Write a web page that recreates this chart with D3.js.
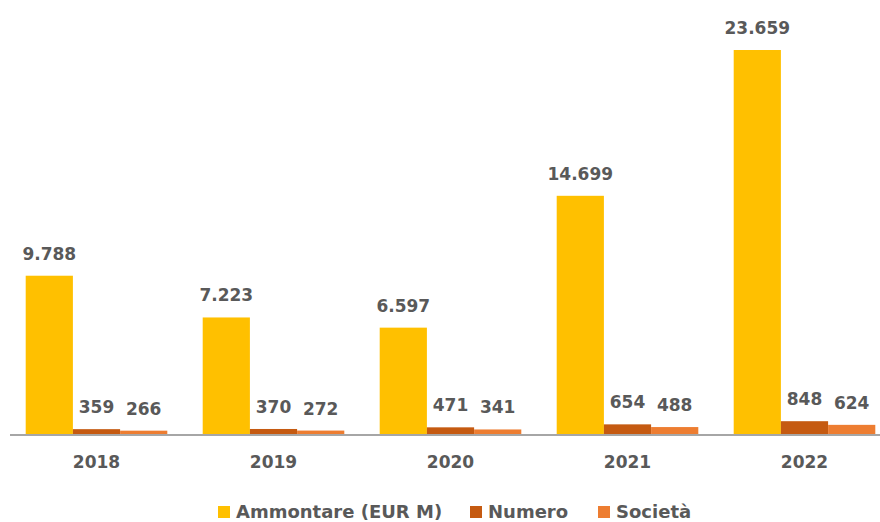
<!DOCTYPE html>
<meta charset="utf-8">
<style>
    body { margin: 0; background: #fff; }
    text { font-family: "DejaVu Sans", sans-serif; font-weight: bold; fill: #595959; }
</style>
<body>
<div id="chart"></div>
<script src="https://cdn.jsdelivr.net/npm/d3@7"></script>
<script>
    // data
    var years = ["2018", "2019", "2020", "2021", "2022"];
    var seriesNames = ["Ammontare (EUR M)", "Numero", "Società"];
    var ammontare = [9788, 7223, 6597, 14699, 23659];
    var numero = [359, 370, 471, 654, 848];
    var societa = [266, 272, 341, 488, 624];
    var colors = ["#FFC000", "#C55A11", "#ED7D31"];

    var width = 880, height = 522;
    var baseline = 435;

    var svg = d3.select("#chart").append("svg")
        .attr("width", width)
        .attr("height", height);

    var x = d3.scaleBand()
        .domain(years)
        .range([8, 893])
        .paddingInner(0.2)
        .paddingOuter(0.1);

    var xs = d3.scaleBand()
        .domain(d3.range(3))
        .range([0, x.bandwidth()]);

    var y = d3.scaleLinear()
        .domain([0, 23659])
        .range([baseline, 50]);

    var table = years.map(function(yr, i) {
        return { year: yr, values: [ammontare[i], numero[i], societa[i]] };
    });

    var fmt = function(v) { return d3.format(",")(v).replace(/,/g, "."); };

    var groups = svg.selectAll(".g").data(table).enter().append("g")
        .attr("transform", function(d) { return "translate(" + x(d.year) + ",0)"; });

    groups.selectAll("rect").data(function(d) { return d.values; }).enter()
        .append("rect")
        .attr("x", function(d, i) { return xs(i); })
        .attr("width", xs.bandwidth())
        .attr("y", function(d) { return y(d); })
        .attr("height", function(d) { return baseline - y(d); })
        .attr("fill", function(d, i) { return colors[i]; });

    groups.selectAll("text.val").data(function(d) { return d.values; }).enter()
        .append("text")
        .attr("class", "val")
        .attr("x", function(d, i) { return xs(i) + xs.bandwidth() / 2; })
        .attr("y", function(d) { return y(d) - 16; })
        .attr("text-anchor", "middle")
        .style("font-size", "17px")
        .text(fmt);

    // axis
    var axis = svg.append("g")
        .attr("transform", "translate(0," + baseline + ")")
        .call(d3.axisBottom(x).tickSize(0).tickPadding(21));
    axis.select(".domain").attr("d", "M10,0H880").attr("stroke", "#A6A6A6").attr("stroke-width", 2);
    axis.selectAll(".tick text")
        .style("font-size", "17px")
        .style("font-family", "DejaVu Sans, sans-serif")
        .attr("fill", "#595959");

    // legend
    var legendX = [218, 470, 598];
    var legend = svg.selectAll(".leg").data(seriesNames).enter().append("g")
        .attr("transform", function(d, i) { return "translate(" + legendX[i] + ",512)"; });
    legend.append("rect")
        .attr("x", 0).attr("y", -6).attr("width", 12).attr("height", 12)
        .attr("fill", function(d, i) { return colors[i]; });
    legend.append("text")
        .attr("x", 18).attr("dy", "0.35em")
        .style("font-size", "18px")
        .text(function(d) { return d; });
</script>
</body>
